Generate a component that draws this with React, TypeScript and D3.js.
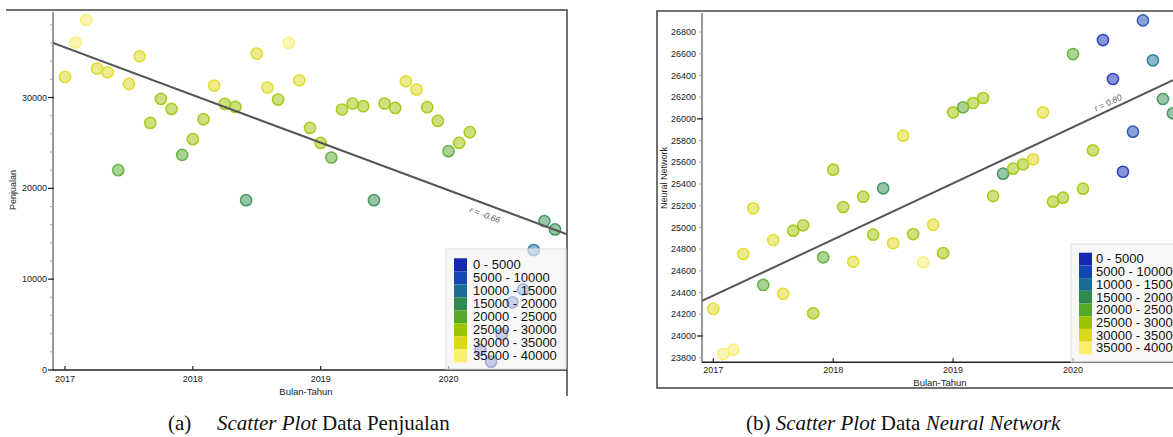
import React from 'react';
import * as d3 from 'd3';

// monthly data Jan 2017 - Nov 2020
const sales = [32263, 36047, 38533, 33187, 32780, 22000, 31493, 34540, 27203, 29843, 28743, 23683,
  25410, 27610, 31317, 29293, 28963, 18700, 34837, 31097, 29777, 36003, 31900, 26653,
  25003, 23397, 28677, 29337, 29040, 18700, 29337, 28853, 31790, 30877, 28930, 27423,
  24090, 25003, 26180, 2200, 913, 3927, 7447, 8877, 13200, 16390, 15477];

const neural = [24249, 23834, 23874, 24755, 25176, 24470, 24884, 24389, 24970, 25019, 24209, 24725,
  25532, 25188, 24684, 25283, 24933, 25360, 24854, 25845, 24939, 24679, 25025, 24764,
  26060, 26106, 26146, 26192, 25289, 25495, 25541, 25581, 25627, 26060, 25237, 25274,
  26597, 25357, 25710, 26726, 26367, 25513, 25882, 26907, 26539, 26183, 26051];

const years = [2017, 2018, 2019, 2020];
const binLabels = ['0 - 5000', '5000 - 10000', '10000 - 15000', '15000 - 20000',
  '20000 - 25000', '25000 - 30000', '30000 - 35000', '35000 - 40000'];
const binColors = ['#1428b4', '#1446b4', '#1a6e96', '#2e8c50', '#54aa28', '#9cc400', '#dcd818', '#faee6a'];
const leftTicks = [0, 10000, 20000, 30000];
const rightTicks = [23800, 24000, 24200, 24400, 24600, 24800, 25000, 25200, 25400, 25600,
  25800, 26000, 26200, 26400, 26600, 26800];

const sans = '"Liberation Sans", Arial, sans-serif';
const serif = '"Liberation Serif", "Times New Roman", serif';

const colorOf = (v: number) => binColors[Math.max(0, Math.min(7, Math.floor(v / 5000)))];

function regress(xs: number[], ys: number[]) {
  const mx = d3.mean(xs)!, my = d3.mean(ys)!;
  let sxy = 0, sxx = 0, syy = 0;
  xs.forEach((x, i) => {
    sxy += (x - mx) * (ys[i] - my);
    sxx += (x - mx) ** 2;
    syy += (ys[i] - my) ** 2;
  });
  const b = sxy / sxx;
  return { a: my - b * mx, b, r: sxy / Math.sqrt(sxx * syy) };
}

type PanelProps = {
  values: number[];
  x: d3.ScaleLinear<number, number>;
  y: d3.ScaleLinear<number, number>;
  left: number; right: number; top: number; bottom: number;
  ticks: number[]; minor: number[]; bold: number[];
  yTitle: string; yTitleX: number; yTitleY: number;
  xTitleX: number; xTitleY: number; xLabelY: number;
  legend: { x: number; y: number; w: number; h: number; sw: number; sy: number; sh: number; tx: number };
  rLabel: { x: number; dy: number };
};

function Panel(p: PanelProps) {
  const t = p.values.map((_, i) => years[0] + i / 12);
  const reg = regress(t, p.values);
  const x0 = p.x.invert(p.left), x1 = p.x.invert(p.right);
  const lx0 = p.left, ly0 = p.y(reg.a + reg.b * x0);
  const lx1 = p.right, ly1 = p.y(reg.a + reg.b * x1);
  const ang = Math.atan2(ly1 - ly0, lx1 - lx0) * 180 / Math.PI;
  const rx = p.rLabel.x;
  const ry = ly0 + (ly1 - ly0) * (rx - lx0) / (lx1 - lx0) + p.rLabel.dy;
  const L = p.legend;
  return (
    <g>
      <defs>
        <clipPath id={'c' + p.left}>
          <rect x={p.left} y={p.top} width={p.right - p.left} height={p.bottom - p.top} />
        </clipPath>
      </defs>
      {/* axes */}
      <line x1={p.left} x2={p.left} y1={p.top} y2={p.bottom} stroke="#999" strokeWidth={2} />
      {p.minor.map(v => (
        <line key={'m' + v} x1={p.left - 3} x2={p.left} y1={p.y(v)} y2={p.y(v)} stroke="#aaa" strokeWidth={1} />
      ))}
      {p.bold.map(v => (
        <line key={'b' + v} x1={p.left - 5} x2={p.left + 1} y1={p.y(v)} y2={p.y(v)} stroke="#222" strokeWidth={1.2} />
      ))}
      {p.ticks.map(v => (
        <text key={'t' + v} x={p.left - 6} y={p.y(v)} dy="0.35em" textAnchor="end"
          fontFamily={sans} fontSize={9} fill="#222">{v}</text>
      ))}
      <line x1={p.left} x2={p.right} y1={p.bottom} y2={p.bottom} stroke="#222" strokeWidth={1.5} />
      {years.map(yr => (
        <g key={yr}>
          <line x1={p.x(yr)} x2={p.x(yr)} y1={p.bottom} y2={p.bottom - 4} stroke="#222" strokeWidth={1.2} />
          <text x={p.x(yr)} y={p.xLabelY} textAnchor="middle" fontFamily={sans} fontSize={9} fill="#222">{yr}</text>
        </g>
      ))}
      <text x={p.xTitleX} y={p.xTitleY} textAnchor="middle" fontFamily={sans} fontSize={9.5} fill="#222">Bulan-Tahun</text>
      <text transform={`translate(${p.yTitleX},${p.yTitleY}) rotate(-90)`} textAnchor="middle"
        fontFamily={sans} fontSize={9} fill="#222">{p.yTitle}</text>
      {/* points */}
      <g clipPath={`url(#c${p.left})`}>
        {p.values.map((v, i) => (
          <circle key={i} cx={p.x(t[i])} cy={p.y(v)} r={5.6}
            fill={colorOf(sales[i])} fillOpacity={0.5}
            stroke={colorOf(sales[i])} strokeOpacity={0.85} strokeWidth={1.5} />
        ))}
        <line x1={lx0} y1={ly0} x2={lx1} y2={ly1} stroke="#555" strokeWidth={2} />
      </g>
      <text transform={`translate(${rx},${ry}) rotate(${ang})`} textAnchor="middle" dy="0.35em"
        fontFamily={sans} fontSize={8.5} fontStyle="italic" fill="#555">
        {'r = ' + reg.r.toFixed(2)}
      </text>
      {/* legend */}
      <rect x={L.x} y={L.y} width={L.w} height={L.h} fill="#f2f2f2" fillOpacity={0.6} stroke="#ddd" />
      {binLabels.map((lab, i) => (
        <g key={lab}>
          <rect x={L.sw} y={L.sy + i * L.sh} width={13} height={L.sh} fill={binColors[i]} />
          <text x={L.tx} y={L.sy + i * L.sh + L.sh * 0.85} fontFamily={sans} fontSize={13} fill="#111">{lab}</text>
        </g>
      ))}
    </g>
  );
}

export default function App() {
  const xL = d3.scaleLinear().domain([2017, 2020]).range([65, 448.5]);
  const yL = d3.scaleLinear().domain([0, 30000]).range([370, 97.5]);
  const xR = d3.scaleLinear().domain([2017, 2020]).range([713.3, 1073]);
  const yR = d3.scaleLinear().domain([23800, 26800]).range([357.7, 32]);
  const minorL = d3.range(0, 40000, 2000);

  return (
    <svg width={1173} height={437} style={{ position: 'absolute', left: 0, top: 0, background: '#fff' }}>
      <rect width={1173} height={437} fill="#fff" />
      {/* frames */}
      <polyline points="6,10 567,10 567,396" fill="none" stroke="#444" strokeWidth={1.5} />
      <polyline points="1174,11 657,11 657,388 1174,388" fill="none" stroke="#444" strokeWidth={1.5} />
      <Panel values={sales} x={xL} y={yL} left={53} right={567} top={12} bottom={370}
        ticks={leftTicks} minor={minorL} bold={leftTicks}
        yTitle="Penjualan" yTitleX={16} yTitleY={190}
        xTitleX={306} xTitleY={395} xLabelY={381.5}
        legend={{ x: 446, y: 249, w: 120, h: 120, sw: 454, sy: 258.3, sh: 13, tx: 473 }}
        rLabel={{ x: 485, dy: 11 }} />
      <Panel values={neural} x={xR} y={yR} left={702} right={1173} top={13} bottom={362.3}
        ticks={rightTicks} minor={rightTicks} bold={[24000, 26000]}
        yTitle="Neural Network" yTitleX={667} yTitleY={178}
        xTitleX={940} xTitleY={385.5} xLabelY={372.5}
        legend={{ x: 1071, y: 244, w: 110, h: 118, sw: 1079, sy: 252.7, sh: 12.7, tx: 1096 }}
        rLabel={{ x: 1108, dy: -8 }} />
      {/* captions */}
      <text y={430} fontFamily={serif} fontSize={21} fill="#111">
        <tspan x={168}>(a)</tspan>
        <tspan x={217} fontStyle="italic">Scatter Plot</tspan>
        <tspan> Data Penjualan</tspan>
      </text>
      <text x={746} y={430} fontFamily={serif} fontSize={21} fill="#111">
        (b) <tspan fontStyle="italic">Scatter Plot</tspan> Data <tspan fontStyle="italic">Neural Network</tspan>
      </text>
    </svg>
  );
}
